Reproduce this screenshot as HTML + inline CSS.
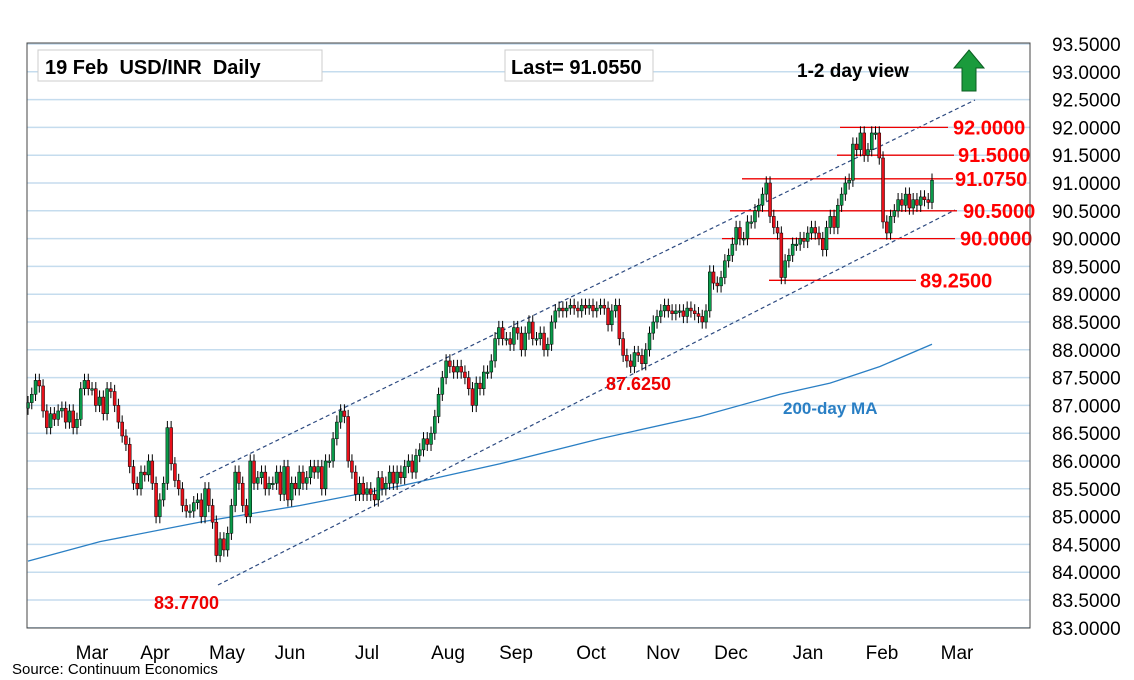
<!DOCTYPE html>
<html><head><meta charset="utf-8"><style>
body{margin:0;background:#fff;font-family:"Liberation Sans",sans-serif}
svg{display:block}
</style></head><body>
<svg width="1134" height="680" xmlns="http://www.w3.org/2000/svg" font-family="Liberation Sans, sans-serif">
<g id="grid"></g>
<g id="yaxis"></g>
<g id="xaxis"></g>
<g id="ma"></g>
<g id="channel"></g>
<g id="levels"></g>
<g id="candles"></g>
<rect x="27" y="43" width="1003" height="585" fill="none" stroke="#444" stroke-width="1"/>
<rect x="38" y="50" width="284" height="31" fill="#fff" stroke="#ccc"/>
<text x="45" y="74" font-size="20" font-weight="bold">19 Feb&#160; USD/INR&#160; Daily</text>
<rect x="505" y="50" width="148" height="31" fill="#fff" stroke="#ccc"/>
<text x="511" y="74" font-size="20" font-weight="bold">Last= 91.0550</text>
<text x="797" y="77" font-size="19" font-weight="bold">1-2 day view</text>
<polygon points="969,50 984,68 976,68 976,91 962,91 962,68 954,68" fill="#1a9b3c" stroke="#0b5e22"/>
<text x="783" y="414" font-size="17" font-weight="bold" fill="#2a7fc4">200-day MA</text>
<text x="154" y="609" font-size="18" font-weight="bold" fill="#e00">83.7700</text>
<text x="606" y="390" font-size="18" font-weight="bold" fill="#e00">87.6250</text>
<text x="12" y="674" font-size="15">Source: Continuum Economics</text>
</svg>
<script>
const yTicks=[83,83.5,84,84.5,85,85.5,86,86.5,87,87.5,88,88.5,89,89.5,90,90.5,91,91.5,92,92.5,93,93.5];
const months=["Mar","Apr","May","Jun","Jul","Aug","Sep","Oct","Nov","Dec","Jan","Feb","Mar"];
const monthX=[92,155,227,290,367,448,516,591,663,731,808,882,957];
const closes=[87.05,87.2,87.45,87.35,86.9,86.6,86.85,86.75,86.9,86.95,86.7,86.9,86.6,86.75,87.3,87.45,87.3,87.3,87.0,87.15,86.85,87.3,87.25,87.0,86.7,86.45,86.3,85.9,85.6,85.5,85.8,85.75,86.0,85.6,85.0,85.3,85.6,86.6,85.95,85.65,85.5,85.2,85.1,85.1,85.25,85.3,85.0,85.5,85.2,84.9,84.3,84.6,84.4,84.7,85.2,85.8,85.6,85.2,85.0,86.0,85.6,85.7,85.8,85.5,85.6,85.6,85.8,85.4,85.9,85.3,85.6,85.5,85.8,85.6,85.7,85.9,85.8,85.9,85.5,86.0,86.0,86.4,86.7,86.9,86.8,86.0,85.8,85.4,85.6,85.4,85.5,85.4,85.3,85.7,85.5,85.6,85.8,85.6,85.8,85.7,85.9,86.0,85.8,86.1,86.2,86.4,86.3,86.5,86.8,87.2,87.5,87.8,87.7,87.6,87.7,87.6,87.5,87.3,87.0,87.4,87.3,87.6,87.6,87.8,88.2,88.4,88.2,88.2,88.1,88.4,88.3,88.0,88.3,88.5,88.2,88.2,88.3,88.0,88.1,88.5,88.7,88.75,88.7,88.75,88.8,88.75,88.7,88.8,88.75,88.8,88.7,88.75,88.8,88.75,88.45,88.7,88.8,88.2,87.9,87.8,87.7,87.95,87.9,87.75,88.0,88.3,88.5,88.6,88.7,88.8,88.7,88.65,88.7,88.7,88.6,88.75,88.7,88.65,88.6,88.5,88.7,89.4,89.2,89.15,89.3,89.6,89.7,89.9,90.2,90.0,90.0,90.3,90.3,90.5,90.6,90.8,91.0,90.4,90.2,90.1,89.3,89.6,89.7,89.9,89.9,90.0,89.95,90.1,90.2,90.1,90.0,89.8,90.2,90.4,90.2,90.6,90.8,91.0,91.05,91.7,91.6,91.9,91.5,91.6,91.9,91.9,91.45,90.3,90.1,90.4,90.5,90.7,90.6,90.8,90.55,90.7,90.6,90.75,90.7,90.65,91.05];
const maX=[28,100,200,300,400,500,600,700,780,830,880,932];
const maVals=[84.2,84.55,84.9,85.2,85.55,85.95,86.4,86.8,87.2,87.4,87.7,88.1];
const levelVals=[92.0,91.5,91.075,90.5,90.0,89.25];
const levelLabels=["92.0000","91.5000","91.0750","90.5000","90.0000","89.2500"];
const levelStart=[840,837,742,730,722,769];
const levelEnd=[948,954,953,957,955,916];
const labelX=[953,958,955,963,960,920];

const NS="http://www.w3.org/2000/svg";
const y=p=>44+(93.5-p)*55.6;
const x0=28,x1=932;
const xi=i=>x0+i*(x1-x0)/(closes.length-1);
function mk(parent,tag,attrs){const e=document.createElementNS(NS,tag);for(const k in attrs)e.setAttribute(k,attrs[k]);document.getElementById(parent).appendChild(e);return e;}
yTicks.forEach(t=>{
  const l=mk('grid','line',{x1:27,x2:1030,y1:y(t),y2:y(t),stroke:'#c5dcee','stroke-width':1.5});
  
  
  const tx=mk('yaxis','text',{x:1052,y:y(t)+7,'font-size':19});
  
  
  tx.textContent=t.toFixed(4);
});
months.forEach((m,i)=>{
  const tx=mk('xaxis','text',{x:monthX[i],y:659,'font-size':19,'text-anchor':'middle'});
  
  
  tx.textContent=m;
});
const ma=mk('ma','polyline',{points:maX.map((xx,i)=>xx+','+y(maVals[i])).join(' '),fill:'none',stroke:'#2a7fc4','stroke-width':1.3});


const up=mk('channel','line',{x1:200,y1:478,x2:975,y2:100,stroke:'#2d4a80','stroke-dasharray':'4,3','stroke-width':1.2});


const lo=mk('channel','line',{x1:218,y1:585,x2:955,y2:210,stroke:'#2d4a80','stroke-dasharray':'4,3','stroke-width':1.2});


levelVals.forEach((v,i)=>{
  const l=mk('levels','line',{x1:levelStart[i],x2:levelEnd[i],y1:y(v),y2:y(v),stroke:'#e00','stroke-width':1.3});
  
  
  const t=mk('levels','text',{x:labelX[i],y:y(v)+7,'font-size':20,'font-weight':'bold',fill:'#f00'});
  
  
  t.textContent=levelLabels[i];
});
closes.forEach((c,i)=>{
  const o=i?closes[i-1]:c-0.1;
  const hi=Math.max(o,c)+0.12,lw=Math.min(o,c)-0.12;
  const xx=xi(i);
  const w=mk('candles','line',{x1:xx,x2:xx,y1:y(hi),y2:y(lw),stroke:'#000','stroke-width':1});
  
  
  const top=y(Math.max(o,c)),h=Math.max(1.5,Math.abs(y(o)-y(c)));
  const r=mk('candles','rect',{x:xx-1.5,y:top,width:3,height:h,fill:c>=o?'#0a9b4a':'#e8101a',stroke:'#000','stroke-width':0.5});
  
  
});
</script>
</body></html>
